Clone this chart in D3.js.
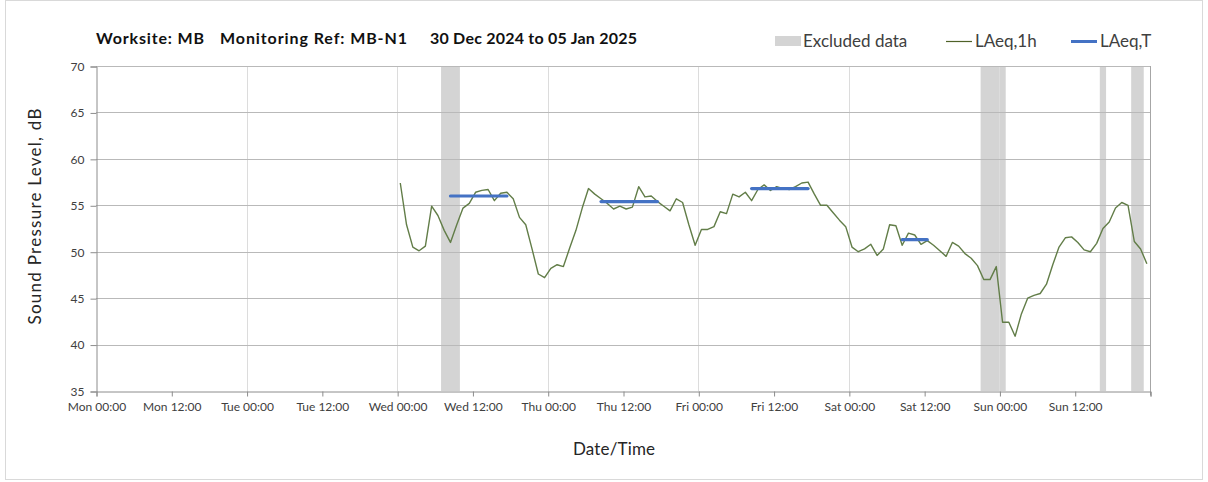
<!DOCTYPE html>
<html>
<head>
<meta charset="utf-8">
<script src="https://cdn.jsdelivr.net/npm/d3@7"></script>
<style>
  html, body { margin: 0; padding: 0; background: #fff; }
  svg { display: block; }
  text { font-family: Lato, "Open Sans", sans-serif; }
</style>
</head>
<body>
<svg id="chart" width="1208" height="482"></svg>
<script>
// ---------------- DATA ----------------
const titleParts = ["Worksite: MB", "Monitoring Ref: MB-N1", "30 Dec 2024 to 05 Jan 2025"];
const yTicks = [35, 40, 45, 50, 55, 60, 65, 70];
const xTickLabels = ["Mon 00:00", "Mon 12:00", "Tue 00:00", "Tue 12:00", "Wed 00:00", "Wed 12:00",
  "Thu 00:00", "Thu 12:00", "Fri 00:00", "Fri 12:00", "Sat 00:00", "Sat 12:00", "Sun 00:00", "Sun 12:00"];

// hourly LAeq,1h values, first value at Wed 01 Jan 2025 00:30, one per hour
const laeq1hStart = "2025-01-01T00:30:00Z";
const laeq1h = [
  57.4, 52.9, 50.5, 50.1, 50.6, 54.9, 53.9, 52.3, 51.0, 52.9, 54.7, 55.2,
  56.4, 56.6, 56.7, 55.5, 56.3, 56.4, 55.7, 53.7, 52.9, 50.3, 47.6, 47.2,
  48.2, 48.6, 48.4, 50.4, 52.3, 54.7, 56.8, 56.2, 55.7, 55.2, 54.6, 54.9,
  54.6, 54.8, 57.0, 55.9, 56.0, 55.4, 54.9, 54.4, 55.7, 55.3, 52.9, 50.7,
  52.4, 52.4, 52.7, 54.3, 54.1, 56.2, 55.9, 56.4, 55.5, 56.7, 57.2, 56.6,
  57.0, 56.8, 56.7, 57.0, 57.4, 57.5, 56.2, 55.0, 55.0, 54.2, 53.4, 52.7,
  50.5, 50.0, 50.3, 50.8, 49.6, 50.3, 52.9, 52.8, 50.7, 52.0, 51.8, 50.8,
  51.2, 50.7, 50.1, 49.5, 51.0, 50.6, 49.8, 49.3, 48.5, 47.0, 47.0, 48.4,
  42.4, 42.4, 40.9, 43.3, 45.0, 45.3, 45.5, 46.5, 48.6, 50.5, 51.5, 51.6,
  51.0, 50.2, 50.0, 50.9, 52.5, 53.2, 54.7, 55.3, 55.0, 51.1, 50.3, 48.7
];

// LAeq,T period levels
const laeqTStart = ["2025-01-01T08:30:00Z", "2025-01-02T08:30:00Z", "2025-01-03T08:30:00Z", "2025-01-04T08:30:00Z"];
const laeqTEnd   = ["2025-01-01T17:30:00Z", "2025-01-02T17:30:00Z", "2025-01-03T17:30:00Z", "2025-01-04T12:30:00Z"];
const laeqTValue = [56.0, 55.4, 56.8, 51.3];

// excluded data periods
const excludedStart = ["2025-01-01T07:00:00Z", "2025-01-04T21:00:00Z", "2025-01-05T16:00:00Z", "2025-01-05T21:00:00Z"];
const excludedEnd   = ["2025-01-01T10:00:00Z", "2025-01-05T01:00:00Z", "2025-01-05T17:00:00Z", "2025-01-05T23:00:00Z"];

const xDomain = ["2024-12-30T00:00:00Z", "2025-01-06T00:00:00Z"];

// ---------------- CHART ----------------
const svg = d3.select("#chart");
const margin = { left: 96, right: 1150, top: 66, bottom: 391 };

const x = d3.scaleUtc().domain(xDomain.map(d => new Date(d))).range([margin.left, margin.right]);
const y = d3.scaleLinear().domain([35, 70]).range([margin.bottom, margin.top]);

const HOUR = 3600 * 1000;
const t0 = new Date(laeq1hStart).getTime();
const series = laeq1h.map((v, i) => ({ t: new Date(t0 + i * HOUR), v }));

// outer border
svg.append("rect").attr("x", 5.5).attr("y", 0.5).attr("width", 1197).attr("height", 479)
  .attr("fill", "none").attr("stroke", "#d9d9d9");

// excluded bands
svg.append("g").selectAll("rect").data(excludedStart.map((s, i) => [new Date(s), new Date(excludedEnd[i])]))
  .join("rect")
  .attr("x", d => x(d[0])).attr("width", d => x(d[1]) - x(d[0]))
  .attr("y", y(70)).attr("height", y(35) - y(70))
  .attr("fill", "#d4d4d4");

// vertical gridlines (daily)
const days = d3.utcDay.range(new Date("2024-12-31T00:00:00Z"), new Date("2025-01-06T00:00:00Z"));
svg.append("g").selectAll("line").data(days).join("line")
  .attr("x1", d => Math.round(x(d)) + 0.5).attr("x2", d => Math.round(x(d)) + 0.5)
  .attr("y1", y(70)).attr("y2", y(35))
  .attr("stroke", "#dcdcdc").attr("stroke-width", 1);

// horizontal gridlines
svg.append("g").selectAll("line").data(yTicks.filter(d => d > 35)).join("line")
  .attr("x1", margin.left).attr("x2", margin.right)
  .attr("y1", d => Math.round(y(d)) + 0.5).attr("y2", d => Math.round(y(d)) + 0.5)
  .attr("stroke", "#b9b9b9").attr("stroke-width", 1);

// right border of plot
svg.append("line")
  .attr("x1", Math.round(margin.right) + 0.5).attr("x2", Math.round(margin.right) + 0.5)
  .attr("y1", y(70)).attr("y2", y(35) + 4)
  .attr("stroke", "#a6a6a6");

// y axis
const yAxis = d3.axisLeft(y).tickValues(yTicks).tickSize(6).tickPadding(6);
const gy = svg.append("g").attr("transform", `translate(${margin.left + 0.5},0.5)`).call(yAxis);
gy.select(".domain").attr("stroke", "#8c8c8c");
gy.selectAll(".tick line").attr("stroke", "#8c8c8c");
gy.selectAll(".tick text").attr("fill", "#404040").style("font-size", "12px").style("font-family", "Lato, sans-serif");

// x axis
const xTickDates = xTickLabels.map((_, i) => new Date(new Date(xDomain[0]).getTime() + i * 12 * HOUR));
const xAxis = d3.axisBottom(x).tickValues(xTickDates.concat([new Date(xDomain[1])]))
  .tickFormat((d, i) => xTickLabels[i] || "").tickSize(5).tickPadding(6);
const gx = svg.append("g").attr("transform", `translate(0.5,${margin.bottom + 0.5})`).call(xAxis);
gx.select(".domain").attr("stroke", "#8c8c8c");
gx.selectAll(".tick line").attr("stroke", "#8c8c8c");
gx.selectAll(".tick text").attr("fill", "#404040").style("font-size", "12px").style("font-family", "Lato, sans-serif");

// LAeq,1h line
svg.append("path").datum(series)
  .attr("d", d3.line().x(d => x(d.t)).y(d => y(d.v)))
  .attr("fill", "none").attr("stroke", "#627d48").attr("stroke-width", 1.4)
  .attr("stroke-linejoin", "round");

// LAeq,T segments
svg.append("g").selectAll("line").data(laeqTValue.map((v, i) => ({ s: new Date(laeqTStart[i]), e: new Date(laeqTEnd[i]), v })))
  .join("line")
  .attr("x1", d => x(d.s)).attr("x2", d => x(d.e))
  .attr("y1", d => y(d.v)).attr("y2", d => y(d.v))
  .attr("stroke", "#4472C4").attr("stroke-width", 3.2).attr("stroke-linecap", "round");

// title
const titleX = [96, 220, 430];
const titleW = [108, 187, 207];
svg.append("g").selectAll("text").data(titleParts).join("text")
  .attr("x", (d, i) => titleX[i]).attr("y", 44)
  .attr("textLength", (d, i) => titleW[i]).attr("lengthAdjust", "spacing")
  .style("font-size", "16px").style("font-weight", "bold").attr("fill", "#111")
  .text(d => d);

// legend
const lg = svg.append("g");
lg.append("rect").attr("x", 775).attr("y", 36).attr("width", 26).attr("height", 10).attr("fill", "#d4d4d4");
lg.append("text").attr("x", 803).attr("y", 47).text("Excluded data");
lg.append("line").attr("x1", 946).attr("x2", 972).attr("y1", 41.5).attr("y2", 41.5).attr("stroke", "#4F6228").attr("stroke-width", 1.2);
lg.append("text").attr("x", 975).attr("y", 47).text("LAeq,1h");
lg.append("line").attr("x1", 1071).attr("x2", 1097).attr("y1", 41.5).attr("y2", 41.5).attr("stroke", "#4472C4").attr("stroke-width", 3);
lg.append("text").attr("x", 1100).attr("y", 47).text("LAeq,T");
lg.selectAll("text").style("font-size", "17px").attr("fill", "#404040");

// axis titles
svg.append("text").attr("transform", `translate(41,${(margin.top + margin.bottom) / 2 - 12}) rotate(-90)`)
  .attr("text-anchor", "middle").style("font-size", "17px").attr("fill", "#262626")
  .attr("textLength", 216).attr("lengthAdjust", "spacing")
  .text("Sound Pressure Level, dB");
svg.append("text").attr("x", 614).attr("y", 455).attr("text-anchor", "middle")
  .style("font-size", "17px").attr("fill", "#262626")
  .attr("textLength", 82).attr("lengthAdjust", "spacing")
  .text("Date/Time");
</script>
</body>
</html>
